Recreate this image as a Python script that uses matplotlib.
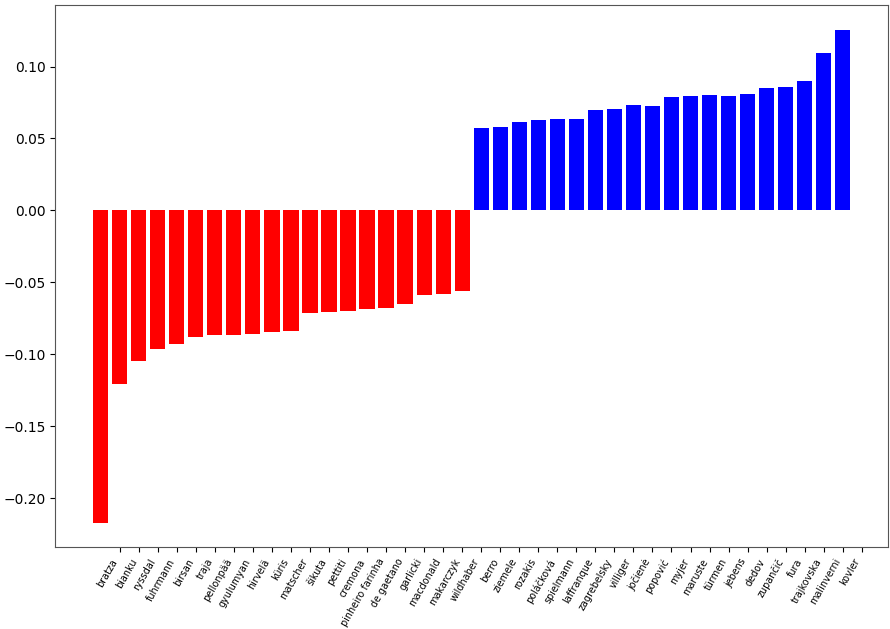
import numpy as np
import matplotlib
matplotlib.use("Agg")
import matplotlib.pyplot as plt

# judges with most negative scores (red) and most positive scores (blue)
neg_names = ['bratza', 'bianku', 'ryssdal', 'fuhrmann', 'birsan', 'traja', 'pellonpää',
             'gyulumyan', 'hirvelä', 'küris', 'matscher', 'šikuta', 'pettiti', 'cremona',
             'pinheiro farinha', 'de gaetano', 'garlicki', 'macdonald', 'makarczyk', 'wildhaber']
neg_vals = [-0.217, -0.121, -0.1047, -0.0963, -0.0929, -0.0877, -0.0866, -0.0864, -0.0858,
            -0.0846, -0.0838, -0.0710, -0.0708, -0.0697, -0.0685, -0.0678, -0.0650, -0.0585,
            -0.0583, -0.0557]

pos_names = ['berro', 'ziemele', 'rozakis', 'poláčková', 'spielmann', 'laffranque',
             'zagrebelsky', 'villiger', 'jočienė', 'popović', 'myjer', 'maruste', 'türmen',
             'jebens', 'dedov', 'zupančič', 'fura', 'trajkovska', 'malinverni', 'kovler']
pos_vals = [0.0576, 0.0583, 0.0611, 0.0627, 0.0634, 0.0632, 0.0696, 0.0708, 0.0729, 0.0728,
            0.0785, 0.0792, 0.0799, 0.0798, 0.0808, 0.0854, 0.0861, 0.0896, 0.1091, 0.1256]

names = neg_names + pos_names
vals = neg_vals + pos_vals
colors = ['red'] * len(neg_vals) + ['blue'] * len(pos_vals)

fig = plt.figure(figsize=(8.9, 6.29), dpi=100)
ax = fig.add_axes([0.062, 0.130, 0.936, 0.862])
x = np.arange(len(vals))
ax.bar(x, vals, color=colors)
# the ticks sit one step to the right of the bars, labels right-aligned
ax.set_xticks(x + 1)
ax.set_xticklabels(names, rotation=60, ha='right', fontsize=6.9)
ax.set_xlim(-0.4 - 0.05 * 39.8, 39.4 + 0.05 * 39.8)
ax.tick_params(axis='y', labelsize=10)
for s in ax.spines.values():
    s.set_color('#555555')

fig.savefig('out.png', dpi=100)
